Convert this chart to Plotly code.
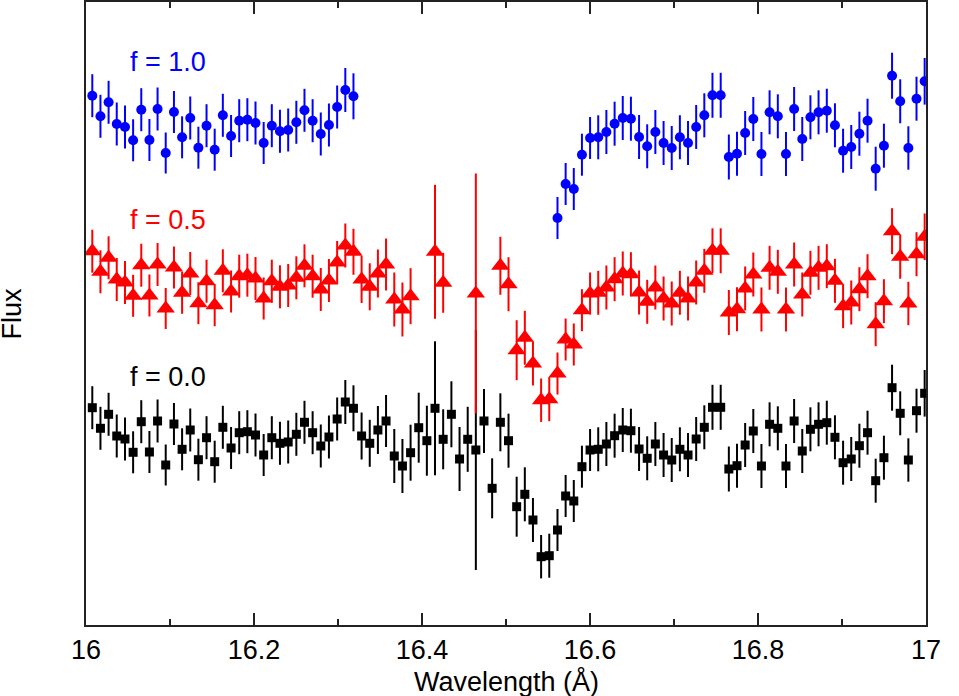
import plotly.graph_objects as go

# wavelength bins (Angstrom)
wave = [16.0075, 16.0172, 16.0269, 16.0366, 16.0464, 16.0561, 16.0658, 16.0755, 16.0852, 16.0949,
        16.1047, 16.1144, 16.1241, 16.1338, 16.1435, 16.1532, 16.1629, 16.1727, 16.1824, 16.1921,
        16.2018, 16.2115, 16.2212, 16.2309, 16.2407, 16.2504, 16.2601, 16.2698, 16.2795, 16.2892,
        16.2990, 16.3087, 16.3184, 16.3281, 16.3378, 16.3475, 16.3572, 16.3670, 16.3767, 16.3864,
        16.3961, 16.4058, 16.4155, 16.4252, 16.4350, 16.4447, 16.4544, 16.4641, 16.4738, 16.4835,
        16.4933, 16.5030, 16.5127, 16.5224, 16.5321, 16.5418, 16.5515, 16.5613, 16.5710, 16.5807,
        16.5904, 16.6001, 16.6098, 16.6195, 16.6293, 16.6390, 16.6487, 16.6584, 16.6681, 16.6778,
        16.6876, 16.6973, 16.7070, 16.7167, 16.7264, 16.7361, 16.7458, 16.7556, 16.7653, 16.7750,
        16.7847, 16.7944, 16.8041, 16.8138, 16.8236, 16.8333, 16.8430, 16.8527, 16.8624, 16.8721,
        16.8819, 16.8916, 16.9013, 16.9110, 16.9207, 16.9304, 16.9401, 16.9499, 16.9596, 16.9693,
        16.9790, 16.9887, 16.9984]

# flux (arbitrary units), f = 0.0 spectrum
flux = [2.173, 1.967, 2.107, 1.890, 1.860, 1.727, 2.033, 1.730, 2.040, 1.600,
        2.010, 1.757, 1.950, 1.653, 1.873, 1.633, 1.977, 1.770, 1.923, 1.933,
        1.900, 1.700, 1.873, 1.817, 1.830, 1.907, 2.027, 1.923, 1.790, 1.880,
        2.060, 2.230, 2.167, 1.890, 1.817, 1.950, 2.040, 1.690, 1.590, 1.723,
        1.973, 1.843, 2.167, 1.857, 2.107, 1.660, 1.857, 1.750, 2.040, 1.367,
        2.027, 1.843, 1.183, 1.307, 1.050, 0.683, 0.693, 0.950, 1.290, 1.240,
        1.583, 1.750, 1.757, 1.810, 1.893, 1.950, 1.943, 1.760, 1.667, 1.810,
        1.700, 1.650, 1.757, 1.700, 1.860, 1.977, 2.177, 2.177, 1.560, 1.593,
        1.800, 1.940, 1.590, 2.007, 1.967, 1.590, 2.040, 1.740, 1.957, 2.007,
        2.023, 1.877, 1.623, 1.660, 1.793, 1.923, 1.443, 1.673, 2.373, 2.117,
        1.650, 2.143, 2.317]

err = [0.215, 0.215, 0.215, 0.215, 0.215, 0.21, 0.215, 0.21, 0.215, 0.205,
       0.21, 0.21, 0.215, 0.21, 0.215, 0.21, 0.215, 0.21, 0.215, 0.215,
       0.215, 0.21, 0.215, 0.215, 0.215, 0.215, 0.215, 0.215, 0.215, 0.215,
       0.215, 0.22, 0.23, 0.235, 0.235, 0.24, 0.26, 0.27, 0.27, 0.28,
       0.35, 0.35, 0.67, 0.30, 0.33, 0.32, 0.325, 1.20, 0.32, 0.30,
       0.29, 0.27, 0.30, 0.27, 0.22, 0.217, 0.22, 0.21, 0.21, 0.21,
       0.21, 0.21, 0.22, 0.22, 0.22, 0.22, 0.22, 0.22, 0.22, 0.22,
       0.22, 0.22, 0.22, 0.22, 0.22, 0.22, 0.225, 0.225, 0.225, 0.22,
       0.22, 0.22, 0.22, 0.22, 0.22, 0.22, 0.22, 0.22, 0.22, 0.22,
       0.22, 0.22, 0.22, 0.22, 0.22, 0.22, 0.22, 0.22, 0.23, 0.22,
       0.217, 0.22, 0.233]

# bins left out of the shifted spectra
red_gaps = [40, 41, 44, 45, 46, 48, 49]
blue_gaps = list(range(33, 57))

red_shift = 1.565
blue_shift = 3.12

series = [
    ("f = 0.0", "black", "square", 9, 0.0, []),
    ("f = 0.5", "#ff0000", "triangle-up", 16, red_shift, red_gaps),
    ("f = 1.0", "#0000ff", "circle", 10, blue_shift, blue_gaps),
]

font = "Liberation Sans, Arial, Helvetica, sans-serif"
fig = go.Figure()
for name, col, sym, sz, shift, gaps in series:
    yy = [None if i in gaps else v + shift for i, v in enumerate(flux)]
    fig.add_trace(go.Scatter(
        x=wave, y=yy, mode="markers", name=name,
        marker=dict(symbol=sym, size=sz, color=col, line=dict(width=0)),
        error_y=dict(type="data", array=err, color=col, thickness=2, width=0),
        showlegend=False))

# labels for each curve
fig.add_annotation(x=16.05, y=2.48, text="f = 0.0", showarrow=False, xanchor="left",
                   font=dict(color="black", size=27, family=font))
fig.add_annotation(x=16.05, y=4.05, text="f = 0.5", showarrow=False, xanchor="left",
                   font=dict(color="#ff0000", size=27, family=font))
fig.add_annotation(x=16.05, y=5.63, text="f = 1.0", showarrow=False, xanchor="left",
                   font=dict(color="#0000ff", size=27, family=font))
fig.add_annotation(xref="paper", yref="paper", x=0, y=0.5, xshift=-75, xanchor="center",
                   text="Flux", textangle=-90, showarrow=False,
                   font=dict(color="black", size=27, family=font))
fig.add_annotation(xref="paper", yref="paper", x=0.5, y=0, yshift=-56, yanchor="middle",
                   text="Wavelength (Å)", showarrow=False,
                   font=dict(color="black", size=27, family=font))

fig.update_xaxes(range=[16, 17], tickvals=[16, 16.2, 16.4, 16.6, 16.8, 17],
                 ticktext=["16", "16.2", "16.4", "16.6", "16.8", "17"],
                 ticks="inside", ticklen=12, tickwidth=2, tickcolor="#222",
                 minor=dict(ticks="inside", ticklen=6, tickwidth=2, dtick=0.1, tickcolor="#222"),
                 showline=True, linewidth=2, linecolor="#222", mirror="allticks",
                 showgrid=False, zeroline=False, automargin=False,
                 tickfont=dict(size=27))
fig.update_yaxes(range=[0, 6.23], showticklabels=False, ticks="",
                 showline=True, linewidth=2, linecolor="#222", mirror=True,
                 showgrid=False, zeroline=False, automargin=False)
fig.update_layout(width=959, height=696, margin=dict(l=86, r=33, t=2, b=71),
                  plot_bgcolor="white", paper_bgcolor="white",
                  font=dict(family=font, color="black"))
fig.write_html("out.html", config={"displayModeBar": False},
               post_script="document.body.style.margin='0';")
